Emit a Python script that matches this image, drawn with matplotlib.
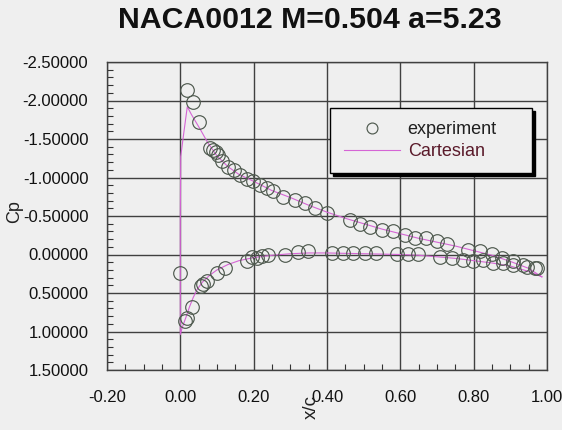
import matplotlib
matplotlib.use("Agg")
import matplotlib.pyplot as plt
from matplotlib.ticker import FixedLocator, MultipleLocator, FormatStrFormatter

# ---- data ----
title = "NACA0012 M=0.504 a=5.23"
x_label = "x/c"
y_label = "Cp"
series_exp = "experiment"
series_cart = "Cartesian"

x_ticks = [-0.2, 0.0, 0.2, 0.4, 0.6, 0.8, 1.0]
y_ticks = [-2.5, -2.0, -1.5, -1.0, -0.5, 0.0, 0.5, 1.0, 1.5]

exp_upper_x = [0.017, 0.034, 0.052, 0.081, 0.090, 0.097, 0.104, 0.113, 0.131, 0.145,
               0.163, 0.181, 0.199, 0.217, 0.236, 0.254, 0.281, 0.313, 0.340, 0.367,
               0.399, 0.463, 0.490, 0.517, 0.549, 0.581, 0.613, 0.640, 0.670, 0.699,
               0.726, 0.785, 0.817, 0.849, 0.876, 0.908, 0.935, 0.967]
exp_upper_cp = [-2.13, -1.98, -1.72, -1.38, -1.36, -1.33, -1.29, -1.21, -1.14, -1.10,
                -1.03, -0.98, -0.95, -0.90, -0.86, -0.82, -0.75, -0.71, -0.67, -0.61,
                -0.54, -0.45, -0.40, -0.36, -0.32, -0.30, -0.25, -0.21, -0.21, -0.17,
                -0.14, -0.06, -0.04, -0.01, 0.05, 0.09, 0.14, 0.18]

exp_lower_x = [0.000, 0.013, 0.018, 0.031, 0.055, 0.062, 0.072, 0.099, 0.122, 0.181,
               0.195, 0.210, 0.222, 0.240, 0.285, 0.322, 0.349, 0.413, 0.443, 0.472,
               0.504, 0.534, 0.590, 0.622, 0.649, 0.708, 0.740, 0.772, 0.799, 0.826,
               0.854, 0.881, 0.908, 0.945, 0.972]
exp_lower_cp = [0.245, 0.86, 0.82, 0.68, 0.41, 0.38, 0.35, 0.245, 0.18, 0.09,
                0.03, 0.04, 0.015, 0.006, 0.0, -0.03, -0.05, -0.02, -0.02, -0.02,
                -0.02, -0.015, -0.005, -0.005, -0.005, 0.03, 0.05, 0.07, 0.09, 0.07,
                0.11, 0.11, 0.14, 0.16, 0.18]

cart_x = [0.986, 0.95, 0.90, 0.85, 0.80, 0.75, 0.70, 0.65, 0.60, 0.50, 0.40, 0.35,
          0.30, 0.25, 0.20, 0.16, 0.13, 0.10, 0.08, 0.06, 0.045, 0.035, 0.025, 0.015,
          0.005, 0.0, 0.0, 0.0, 0.001, 0.01, 0.019, 0.03, 0.04, 0.055, 0.075, 0.10,
          0.13, 0.16, 0.20, 0.25, 0.30, 0.35, 0.40, 0.45, 0.50, 0.55, 0.60, 0.65,
          0.70, 0.75, 0.80, 0.85, 0.90, 0.95, 0.986]
cart_cp = [0.29, 0.22, 0.15, 0.11, 0.08, 0.05, 0.03, 0.01, 0.0, -0.01, -0.02, -0.02,
           -0.01, 0.01, 0.04, 0.08, 0.13, 0.20, 0.27, 0.36, 0.46, 0.56, 0.68, 0.82,
           0.95, 1.04, 0.5, -0.5, -1.27, -1.6, -1.92, -1.82, -1.74, -1.62, -1.45, -1.28,
           -1.14, -1.04, -0.95, -0.83, -0.74, -0.64, -0.55, -0.47, -0.40, -0.33, -0.27, -0.21,
           -0.16, -0.11, -0.05, 0.01, 0.09, 0.18, 0.29]

# ---- style ----
plt.rcParams['font.family'] = ['Liberation Sans', 'DejaVu Sans']
bg = '#efefef'
W, H = 562, 430
fig = plt.figure(figsize=(W / 100, H / 100), dpi=100, facecolor=bg)
ax = fig.add_axes([107 / W, 1 - 370 / H, 440 / W, 308 / H], facecolor=bg)

line_col = '#d565d5'
mk_col = '#4f5a4f'

ax.plot(cart_x, cart_cp, color=line_col, lw=0.8, label=series_cart, zorder=2)
ax.plot(exp_upper_x + exp_lower_x, exp_upper_cp + exp_lower_cp, linestyle='none',
        marker='o', markersize=9.8, markerfacecolor='none', markeredgecolor=mk_col,
        markeredgewidth=0.85, label=series_exp, zorder=3)

ax.set_xlim(-0.2, 1.0)
ax.set_ylim(1.5, -2.5)
ax.xaxis.set_major_locator(FixedLocator(x_ticks))
ax.yaxis.set_major_locator(FixedLocator(y_ticks))
ax.xaxis.set_minor_locator(MultipleLocator(0.05))
ax.yaxis.set_minor_locator(MultipleLocator(0.1))
ax.xaxis.set_major_formatter(FormatStrFormatter('%.2f'))
ax.yaxis.set_major_formatter(FormatStrFormatter('%.5f'))
ax.tick_params(which='major', length=0, labelsize=12, labelcolor='#111111')
ax.tick_params(axis='y', which='major', pad=13.5)
ax.tick_params(axis='x', which='major', pad=14.5)
ax.tick_params(which='minor', direction='in', length=4, width=0.8, color='#333333',
               top=False, right=False)
ax.grid(True, which='major', color='#404040', lw=1.0)
for s in ax.spines.values():
    s.set_color('#404040')
    s.set_linewidth(1.0)

# legend
handles, labels = ax.get_legend_handles_labels()
leg = ax.legend([handles[1], handles[0]], [labels[1], labels[0]],
                loc='upper left', bbox_to_anchor=(0.507, 0.643, 0.459, 0.208),
                mode='expand', borderaxespad=0.0, fontsize=13, handlelength=3.15,
                handletextpad=0.4, labelspacing=0.25, borderpad=0.75, fancybox=False,
                framealpha=1, edgecolor='black', facecolor=bg, markerscale=0.8,
                shadow={'color': 'black', 'alpha': 1.0})
leg.get_frame().set_linewidth(1.0)
leg.get_texts()[0].set_color('#202020')
leg.get_texts()[1].set_color('#5a1a2a')

fig.text(310 / W, 1 - 20 / H, title, ha='center', va='center', fontsize=21.8,
         fontweight='bold', color='#111111')
fig.text(15 / W, 1 - 212 / H, y_label, rotation=90, ha='center', va='center',
         fontsize=13, color='#222222')
fig.text(311 / W, 1 - 407 / H, x_label, rotation=90, ha='center', va='center',
         fontsize=13.5, color='#222222')

fig.savefig('out.png', dpi=100, facecolor=bg)
